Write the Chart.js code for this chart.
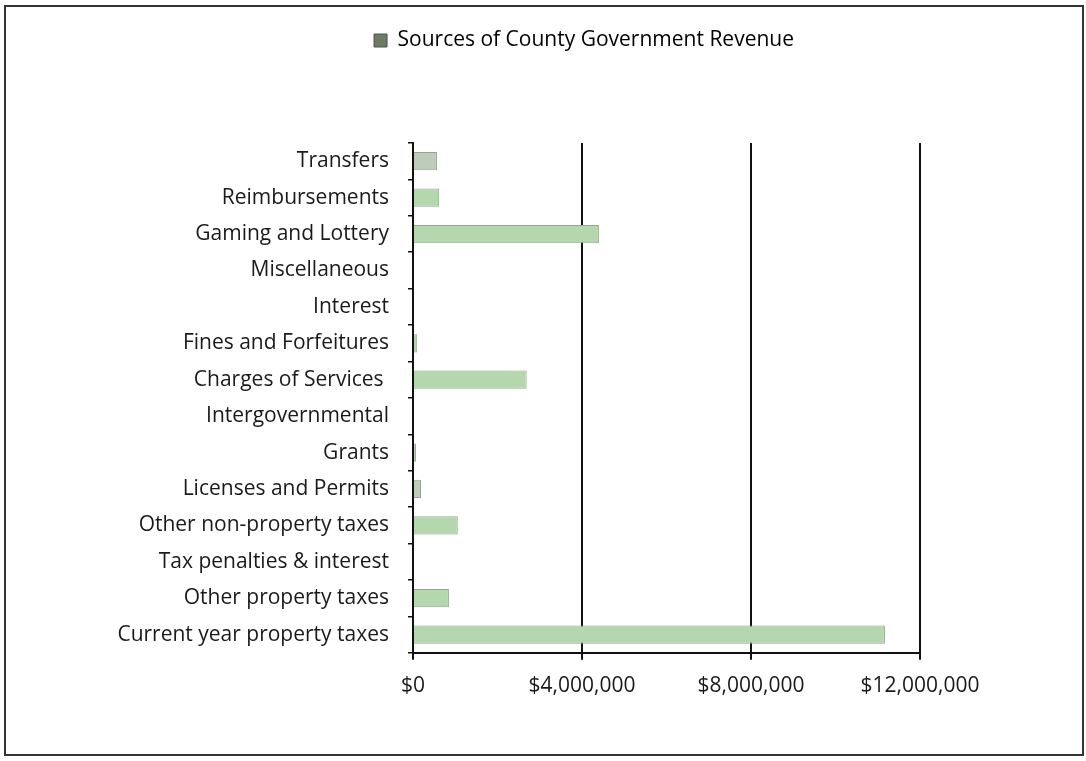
<!DOCTYPE html>
<html>
<head>
<meta charset="utf-8">
<script src="https://cdn.jsdelivr.net/npm/chart.js@4"></script>
<style>
  html, body { margin: 0; padding: 0; background: #fff; }
  #wrap { position: relative; width: 1086px; height: 761px; }
  #frame { position: absolute; left: 4px; top: 5px; width: 1080px; height: 751px;
           border: 2px solid #333; box-sizing: border-box; pointer-events: none; }
</style>
</head>
<body>
<div id="wrap">
  <canvas id="revenueChart" width="1086" height="761"></canvas>
  <div id="frame"></div>
</div>
<script>
// revenue by source, top to bottom as listed
const sources = [
    'Transfers',
    'Reimbursements',
    'Gaming and Lottery',
    'Miscellaneous',
    'Interest',
    'Fines and Forfeitures',
    'Charges of Services ',
    'Intergovernmental',
    'Grants',
    'Licenses and Permits',
    'Other non-property taxes',
    'Tax penalties & interest',
    'Other property taxes',
    'Current year property taxes'
];
const revenue = [
    570000, 620000, 4400000, 0, 0, 100000, 2690000,
    0, 70000, 190000, 1060000, 0, 850000, 11170000
];
const xTicks = [0, 4000000, 8000000, 12000000];

const labelFont = { family: 'Open Sans', size: 21 };

// push the plot area down below the legend and shift the legend right
const legendGap = {
    id: 'legendGap',
    beforeInit(chart) {
        const fit = chart.legend.fit;
        chart.legend.fit = function () {
            fit.bind(chart.legend)();
            this.height += 82;
        };
    },
    afterLayout(chart) {
        chart.legend.left += 114;
        chart.legend.right += 114;
    }
};

Chart.defaults.color = '#1a1a1a';

const ctx = document.getElementById('revenueChart').getContext('2d');
new Chart(ctx, {
    type: 'bar',
    data: {
        labels: sources,
        datasets: [{
            label: 'Sources of County Government Revenue',
            data: revenue,
            backgroundColor: (c) => [0, 5, 8, 9].includes(c.dataIndex) ? '#bfcbbb' : '#b4d7ae',
            borderColor: '#93a68f',
            borderWidth: 1,
            barPercentage: 0.5,
            categoryPercentage: 1.0
        }]
    },
    options: {
        indexAxis: 'y',
        responsive: false,
        animation: false,
        layout: { padding: { top: 20, right: 166, bottom: 48, left: 20 } },
        plugins: {
            legend: {
                position: 'top',
                labels: {
                    font: labelFont,
                    boxWidth: 13,
                    boxHeight: 13,
                    padding: 10,
                    generateLabels: (chart) => [{
                        text: chart.data.datasets[0].label,
                        fillStyle: '#6e7a66',
                        strokeStyle: '#4d5548',
                        lineWidth: 1,
                        datasetIndex: 0
                    }]
                }
            },
            tooltip: { enabled: false }
        },
        scales: {
            x: {
                min: 0,
                max: 12000000,
                afterBuildTicks: (scale) => {
                    scale.ticks = xTicks.map(v => ({ value: v }));
                },
                ticks: {
                    font: labelFont,
                    padding: 14,
                    callback: (v) => '$' + Number(v).toLocaleString('en-US')
                },
                grid: {
                    color: '#111',
                    lineWidth: 2,
                    tickLength: 7,
                    drawTicks: true
                },
                border: { color: '#111', width: 2 }
            },
            y: {
                afterFit: (scale) => { scale.width = 393; },
                ticks: { font: labelFont, padding: 19 },
                grid: {
                    offset: true,
                    drawOnChartArea: false,
                    color: '#111',
                    lineWidth: 1.5,
                    tickLength: 5
                },
                border: { color: '#111', width: 2 }
            }
        }
    },
    plugins: [legendGap]
});
</script>
</body>
</html>
